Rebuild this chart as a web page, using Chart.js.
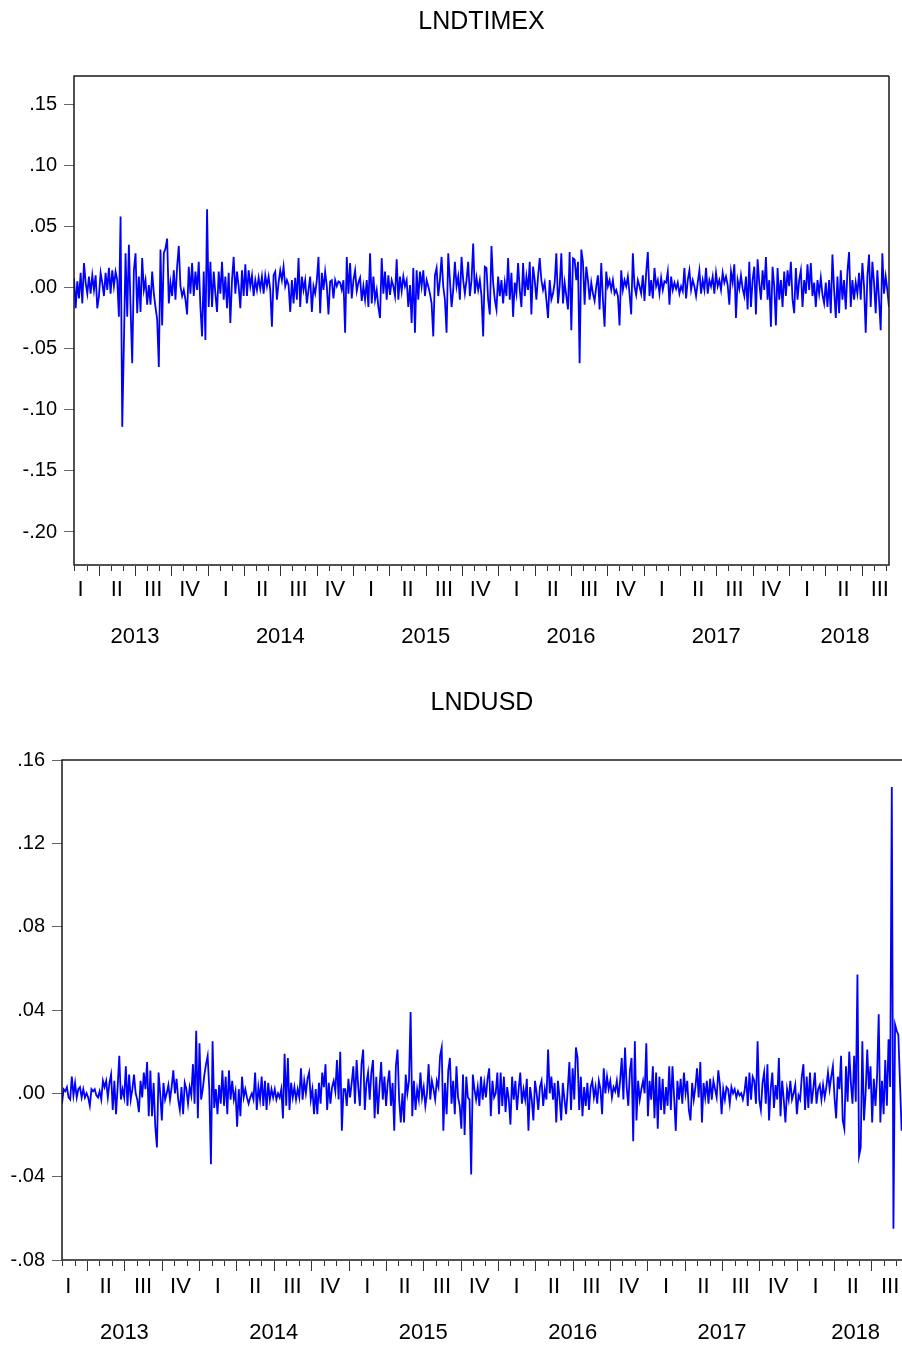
<!DOCTYPE html>
<html>
<head>
<meta charset="utf-8">
<script src="https://cdn.jsdelivr.net/npm/chart.js@4.4.1/dist/chart.umd.min.js"></script>
<style>
  html, body { margin: 0; padding: 0; background: #fff; }
  canvas { display: block; }
</style>
</head>
<body>
<canvas id="timexChart" width="902" height="680"></canvas>
<canvas id="usdChart" width="902" height="668"></canvas>
<script>
// axis units are months counted from Jan 2013 (Feb 2013 = 1)
const QUARTER_LABELS = ["I", "II", "III", "IV"];
const YEAR_LABELS = ["2013", "2014", "2015", "2016", "2017", "2018"];

const TIMEX_TICKS = [-0.20, -0.15, -0.10, -0.05, 0.00, 0.05, 0.10, 0.15];
const USD_TICKS = [-0.08, -0.04, 0.00, 0.04, 0.08, 0.12, 0.16];

// LNDTIMEX left to right
const lndtimex = [
  .008,-.017,.005,-.009,.012,-.013,.020,.004,-.005,.009,-.005,.010,-.002,.010,-.017,-.007,.012,.004,-.007,.012,
  -.002,.016,-.005,.014,.001,.013,.006,-.024,.058,-.114,-.046,.028,-.024,.035,-.016,-.062,.014,.028,-.021,.009,
  -.020,.024,-.002,.006,-.014,.002,-.014,.013,-.005,-.016,-.026,-.065,.031,-.031,.028,.032,.040,-.013,.004,-.007,
  .014,-.010,.017,.034,.001,-.007,-.002,-.010,-.022,.017,-.005,.020,-.007,.013,-.002,.021,-.016,-.040,.013,-.043,
  .064,-.016,.021,-.016,.013,-.005,-.020,.013,-.005,.021,-.010,.009,-.017,.012,-.029,.006,.025,-.005,.013,.001,
  -.017,.014,-.007,.019,-.007,.014,.001,.010,-.007,.006,-.002,.008,-.001,.009,-.005,.010,.001,.009,-.002,-.032,
  .010,.013,-.010,.004,.014,.006,.017,.001,.006,.002,-.020,.006,-.013,.008,-.010,.024,-.016,.009,-.002,.006,
  -.013,-.002,.009,-.020,.001,-.005,.006,.025,-.021,.012,-.002,.013,.001,-.022,.005,.006,-.009,.006,.001,.005,
  .004,-.002,.006,-.037,.025,-.005,.020,-.009,.006,.014,-.003,.004,.008,-.011,.001,-.010,.006,-.016,.028,-.013,
  .009,-.010,-.002,-.016,-.025,.024,-.005,.013,-.010,.010,-.006,.006,.001,-.007,.023,-.010,.009,-.003,.009,.001,
  .006,-.016,.002,-.029,.016,-.037,.014,-.010,.013,.001,.014,-.007,.006,.001,-.005,-.013,-.040,.010,.016,-.007,
  .006,.025,.001,-.010,-.037,.028,.006,-.016,-.002,.021,.001,.009,-.010,.025,.006,-.005,.006,.021,-.007,.006,
  .036,-.005,.008,-.002,.006,-.007,-.040,.017,
  .016,-.010,-.022,.034,.004,-.010,-.018,.009,-.007,.006,-.013,.004,-.007,.024,-.010,.012,-.024,.004,-.005,.020,
  -.002,-.016,.020,-.007,.009,-.002,.021,-.022,.017,.006,-.010,.009,.024,.006,-.002,.004,-.010,-.025,.006,-.010,
  -.005,.004,.028,-.013,.001,.028,-.013,.004,-.007,-.018,.029,-.035,.024,.023,.006,.021,-.062,.031,.021,-.014,
  .017,.006,-.010,.004,-.005,-.011,.001,.010,-.018,.020,-.010,-.032,.013,.001,.006,-.002,.006,-.005,-.002,-.007,
  -.031,.014,-.002,.006,.001,.009,-.005,-.022,.028,.001,-.006,.006,.001,-.005,.010,-.011,.012,.029,-.007,.006,
  -.009,.016,.001,.006,-.005,.008,-.002,.005,.004,.013,-.014,.009,-.002,.004,-.001,.004,-.005,.001,-.003,.016,
  -.009,.006,.014,-.002,.006,.001,-.007,.004,.014,-.005,.006,-.002,.016,-.005,.006,.001,.009,-.005,.012,.001,
  .006,-.002,.012,.004,.009,.002,-.014,.013,.004,.019,-.025,.006,-.001,.010,-.001,-.007,.009,-.018,.021,-.016,
  .006,.017,-.022,.023,.004,-.010,.014,-.002,.025,-.010,.006,-.032,.017,.001,-.031,.016,-.010,.006,-.016,.013,
  -.007,.014,.001,.021,-.010,-.021,.016,-.010,.006,.014,-.016,.006,-.005,.019,-.002,.020,-.007,.004,-.016,.006,
  -.005,.008,-.006,-.013,.004,-.016,.006,-.021,.027,-.002,-.025,.009,-.021,.014,-.010,.006,-.018,.013,.029,-.016,
  .006,-.010,.004,-.005,.012,-.010,.020,.001,-.037,.009,.027,-.016,.021,.004,-.021,.014,-.010,-.035,.028,-.005,
  .009,-.002,-.016
];

// LNDUSD left to right
const lndusd = [
  -.005,.002,.001,.003,-.002,-.003,.008,-.001,.005,-.002,.002,.003,-.002,.002,-.002,0,-.002,-.006,.002,.001,
  .002,-.001,-.002,.001,-.003,.006,.003,.006,-.002,.005,.009,-.008,.006,-.010,.003,.018,-.003,.002,-.002,.013,
  -.006,.009,-.003,.002,.009,0,-.003,-.009,.006,-.002,.010,.002,.015,-.011,.011,-.011,.005,-.016,-.026,.010,
  0,-.013,.005,-.003,0,.004,-.003,.003,.011,0,.007,-.003,-.008,.003,-.010,.005,.002,-.005,.003,-.001,
  .014,-.005,.030,-.012,.024,-.003,.002,.009,.014,.018,.002,-.034,.025,-.007,.002,-.010,.004,-.005,.011,-.006,
  .008,-.010,.011,-.003,.006,-.003,.001,-.016,.002,-.011,.008,-.002,.002,-.002,-.005,-.002,0,-.003,.010,-.008,
  .003,-.003,.008,-.006,.006,-.008,.005,-.003,.002,-.002,.002,-.003,0,-.002,.002,-.012,.019,-.006,.017,-.008,
  .005,-.002,.003,-.003,.002,-.002,.012,-.003,.006,0,.007,.010,-.003,.002,-.010,.002,-.010,.005,-.005,.010,
  .003,.014,-.008,.005,-.005,.003,.006,.001,.016,-.003,.020,-.018,.002,.002,-.006,.007,-.002,.005,.013,-.005,
  .016,.003,-.006,.014,.021,-.008,.005,.010,-.003,.010,.016,-.012,.008,-.010,.003,.015,-.003,.008,-.006,.005,
  .011,-.006,.005,-.018,.013,.021,-.003,-.014,0,-.014,.009,0,.006,.039,-.011,.006,-.008,.002,-.003,.010,
  -.002,.003,-.006,0,.014,-.003,.006,.002,-.003,.006,.003,.018,.022,-.018,.005,-.010,.011,.017,-.005,.006,
  -.010,.013,-.002,-.006,-.017,.009,-.020,.008,-.002,-.003,-.039,.009,.002,-.003,.003,-.006,
  .008,-.003,.005,-.002,.007,.012,-.011,.006,-.002,0,.010,-.010,.010,-.006,.008,-.009,.003,-.003,-.015,.008,
  -.003,.006,-.008,.002,.010,-.005,.002,-.003,.007,-.018,.003,-.003,-.013,.006,0,-.008,.003,.006,-.006,.002,
  -.003,.021,0,.008,-.003,.005,-.014,.006,-.002,-.013,.005,-.003,-.010,.002,.015,-.008,.012,-.003,.022,.017,
  -.008,.008,-.011,.003,-.006,.005,-.008,.003,.006,-.002,.003,-.005,.006,.002,-.010,.012,0,.008,.002,.006,
  -.002,.003,.001,.006,-.002,.006,.017,-.003,.022,.003,-.006,.011,.017,-.023,.025,-.013,.006,-.003,.002,.006,
  0,.024,-.011,.006,-.003,.013,-.012,.010,-.017,.008,-.008,.007,-.010,.003,-.006,.013,-.008,.013,-.002,-.018,
  .006,-.003,.007,-.005,.010,0,.006,-.008,-.013,.005,-.003,.003,.012,-.002,.015,-.014,.005,-.002,.006,-.005,
  .007,-.003,.006,.002,-.002,.011,.004,-.010,.002,-.003,.003,.002,-.005,.003,0,.002,-.002,.001,-.001,0,
  -.003,.001,.008,-.006,.010,-.003,.008,
  .006,-.005,.025,-.003,-.008,.005,.010,-.005,.014,-.013,.002,.010,-.007,.004,-.003,.017,-.011,.006,-.003,-.014,
  .002,-.003,.006,-.003,0,.004,-.010,-.001,-.003,.008,.014,-.008,.008,-.007,.010,-.005,.002,.010,-.005,.002,
  .004,-.003,.004,-.002,.003,.010,.002,.008,.013,-.002,-.012,.008,.002,.018,-.013,-.017,.013,-.004,.020,.005,
  -.005,.018,-.004,.057,-.030,-.026,.025,-.013,0,.021,.002,.013,-.014,.007,-.006,.008,.038,-.014,.006,-.010,
  .016,-.006,.026,.003,.147,-.065,.033,.030,.028,.005,-.018
];

const FONT = "'Liberation Sans', Arial, sans-serif";
Chart.defaults.font.family = FONT;

function toPoints(values, first, last) {
  const step = (last - first) / (values.length - 1);
  return values.map((v, i) => ({ x: first + i * step, y: v }));
}

function formatTick(value) {
  const s = Math.abs(value).toFixed(2).replace(/^0/, "");
  return (value < -1e-9 ? "-" : "") + s;
}

// EViews style frame, monthly ticks, quarter and year labels under the x axis
const eviewsAxis = {
  id: "eviewsAxis",
  afterDraw(chart, args, opts) {
    const { ctx, chartArea: a } = chart;
    const x = chart.scales.x;
    ctx.save();

    ctx.strokeStyle = "#1a1a1a";
    ctx.lineWidth = 1.5;
    ctx.beginPath();
    ctx.moveTo(a.right, a.top);
    ctx.lineTo(a.left, a.top);
    ctx.lineTo(a.left, a.bottom);
    ctx.lineTo(a.right, a.bottom);
    if (opts.closeRight) ctx.lineTo(a.right, a.top);
    ctx.stroke();

    ctx.lineWidth = 1;
    ctx.strokeStyle = "#333";
    for (let m = Math.ceil(x.min); m <= Math.floor(x.max); m++) {
      const px = Math.round(x.getPixelForValue(m)) + 0.5;
      const len = m % 3 === 0 ? 10 : 5;
      ctx.beginPath();
      ctx.moveTo(px, a.bottom + 1);
      ctx.lineTo(px, a.bottom + 1 + len);
      ctx.stroke();
    }

    ctx.fillStyle = "#000";
    ctx.textAlign = "center";
    ctx.textBaseline = "middle";
    ctx.font = "22px " + FONT;
    for (let q = 0; q * 3 < x.max; q++) {
      const center = q * 3 + 1.5;
      if (center < x.min) continue;
      ctx.fillText(QUARTER_LABELS[q % 4], x.getPixelForValue(center), a.bottom + opts.quarterGap);
    }
    YEAR_LABELS.forEach((label, k) => {
      const start = k * 12;
      const end = start + 12;
      const center = end > x.max ? (start + x.max) / 2 + 0.5 : start + 6;
      ctx.fillText(label, x.getPixelForValue(center), a.bottom + opts.yearGap);
    });
    ctx.restore();
  }
};

function makeChart(canvasId, cfg) {
  return new Chart(document.getElementById(canvasId), {
    type: "line",
    data: {
      datasets: [{
        data: toPoints(cfg.values, cfg.first, cfg.last),
        borderColor: "#0000ff",
        borderWidth: 1.8,
        pointRadius: 0,
        tension: 0
      }]
    },
    options: {
      responsive: false,
      animation: false,
      devicePixelRatio: 1,
      layout: { padding: { left: 0, right: cfg.padRight, top: 0, bottom: 0 } },
      plugins: {
        legend: { display: false },
        tooltip: { enabled: false },
        title: {
          display: true,
          text: cfg.title,
          fullSize: false,
          color: "#000",
          font: { size: 25, weight: "normal", lineHeight: 1.2 },
          padding: { top: cfg.titleTop, bottom: cfg.titleBottom }
        },
        eviewsAxis: { quarterGap: cfg.quarterGap, yearGap: cfg.yearGap, closeRight: cfg.closeRight }
      },
      scales: {
        x: {
          type: "linear",
          min: cfg.xMin,
          max: cfg.xMax,
          ticks: { display: false },
          grid: { display: false },
          border: { display: false },
          afterFit: (s) => { s.height = cfg.xHeight; }
        },
        y: {
          min: cfg.yMin,
          max: cfg.yMax,
          afterFit: (s) => { s.width = cfg.yWidth; },
          afterBuildTicks: (s) => { s.ticks = cfg.yTicks.map(v => ({ value: v })); },
          ticks: {
            callback: formatTick,
            color: "#000",
            font: { size: 20 },
            padding: 7
          },
          grid: { drawOnChartArea: false, tickLength: 10, color: "#666" },
          border: { display: false }
        }
      }
    },
    plugins: [eviewsAxis]
  });
}

makeChart("timexChart", {
  title: "LNDTIMEX",
  values: lndtimex,
  first: 0.96, last: 68.26,
  xMin: 0.96, xMax: 68.26,
  yMin: -0.227, yMax: 0.173, yTicks: TIMEX_TICKS,
  padRight: 13, yWidth: 74, xHeight: 115,
  titleTop: 6.7, titleBottom: 39.3,
  quarterGap: 25, yearGap: 72, closeRight: true
});

makeChart("usdChart", {
  title: "LNDUSD",
  values: lndusd,
  first: 0.99, last: 68.42,
  xMin: 0.99, xMax: 68.45,
  yMin: -0.08, yMax: 0.16, yTicks: USD_TICKS,
  padRight: 0, yWidth: 62, xHeight: 88,
  titleTop: 8, titleBottom: 42,
  quarterGap: 27, yearGap: 73, closeRight: false
});
</script>
</body>
</html>
